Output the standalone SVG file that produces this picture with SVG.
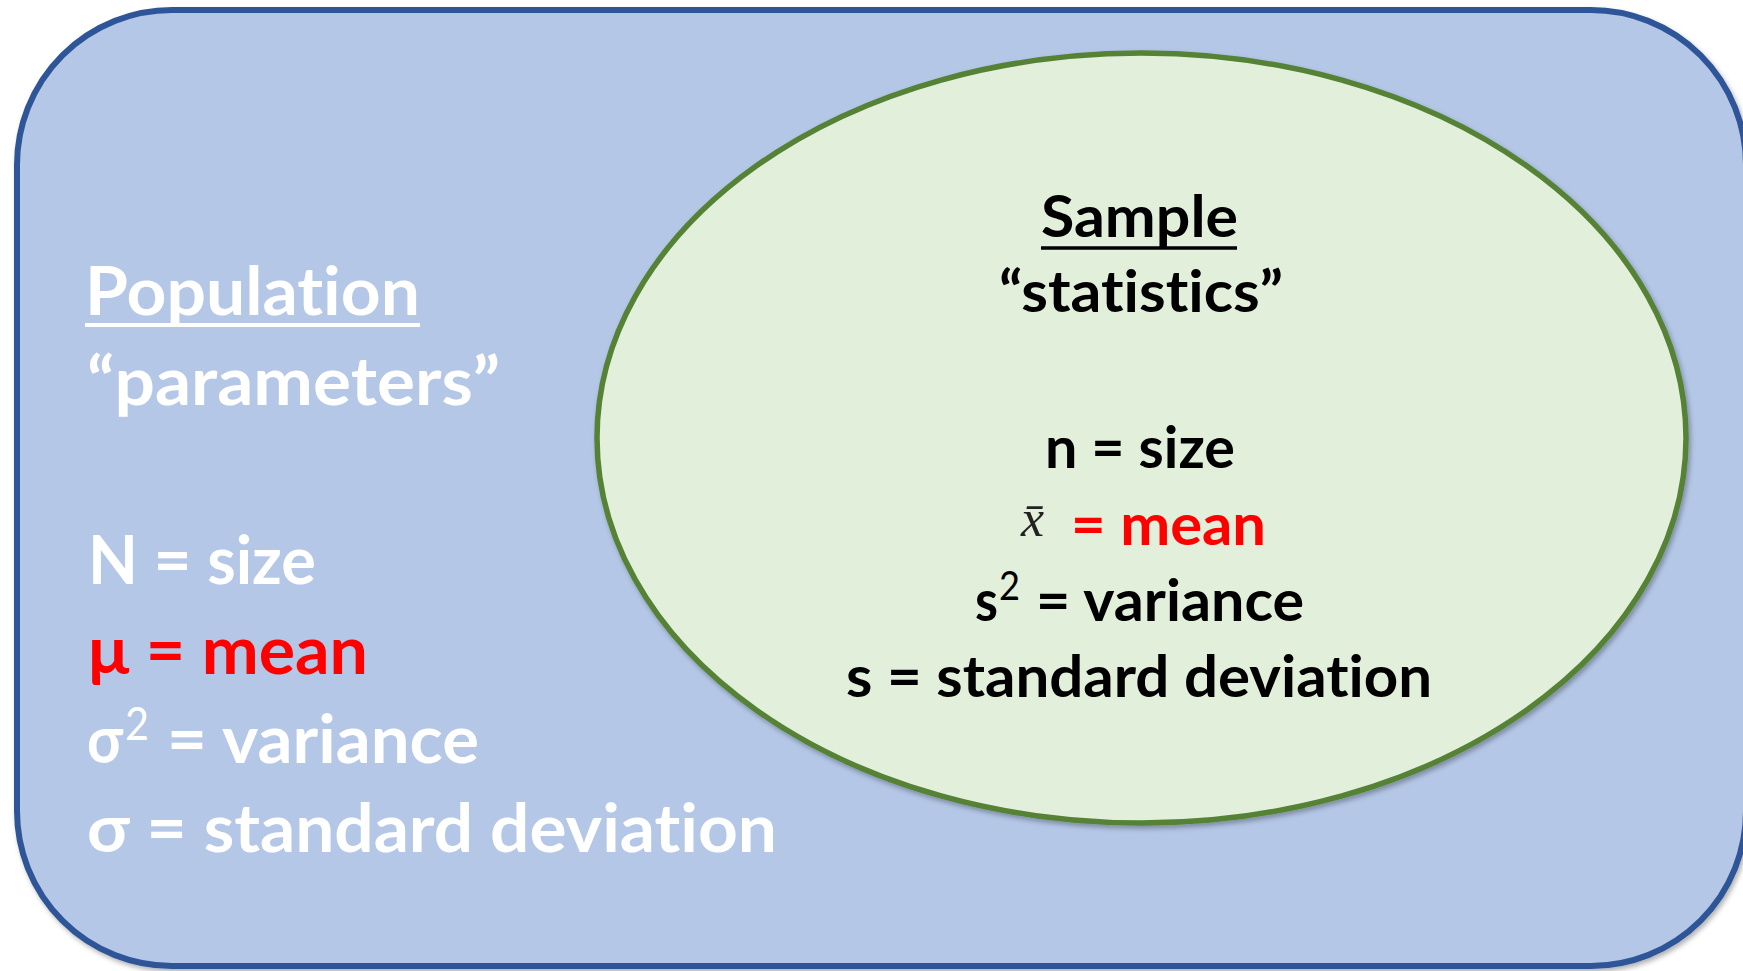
<svg xmlns="http://www.w3.org/2000/svg" width="1743" height="971" viewBox="0 0 1743 971">
<defs>
<filter id="sh" x="-5%" y="-5%" width="110%" height="110%">
<feDropShadow dx="2" dy="3" stdDeviation="2.5" flood-color="#000" flood-opacity="0.3"/>
</filter>
<style>
text{font-variant-ligatures:none;font-feature-settings:"liga" 0,"clig" 0}
.t{font-family:Lato,"Open Sans","Noto Sans",sans-serif;font-weight:700}
.L{font-size:66px}
.R{font-size:57px}
.w{fill:#ffffff}
.k{fill:#000000}
.r{fill:#ff0000}
.sup{font-family:Lato,"Open Sans",sans-serif;font-weight:400}
.ul{stroke-width:4}
</style>
</defs>
<rect width="1743" height="971" fill="#ffffff"/>
<g id="population">
<rect x="17" y="10" width="1729" height="956" rx="155" ry="155" fill="#b4c7e7" stroke="#2f5597" stroke-width="6" filter="url(#sh)"/>
<text class="t L w" x="85" y="315" textLength="335" lengthAdjust="spacingAndGlyphs">Population</text>
<line class="ul" x1="85" y1="325" x2="420" y2="325" stroke="#ffffff"/>
<text class="t L w" x="87" y="405" textLength="413" lengthAdjust="spacingAndGlyphs">“parameters”</text>
<text class="t L w" x="88" y="584" textLength="228" lengthAdjust="spacingAndGlyphs">N = size</text>
<text class="t L r" x="88" y="674" textLength="280" lengthAdjust="spacingAndGlyphs">μ = mean</text>
<text class="t L w" x="87" y="763" textLength="36" lengthAdjust="spacingAndGlyphs">σ</text>
<text class="sup w" x="125" y="740" font-size="46" textLength="24" lengthAdjust="spacingAndGlyphs">2</text>
<text class="t L w" x="167" y="763" textLength="312" lengthAdjust="spacingAndGlyphs">= variance</text>
<text class="t L w" x="87" y="852" textLength="690" lengthAdjust="spacingAndGlyphs">σ = standard deviation</text>
</g>
<g id="sample">
<ellipse cx="1141.5" cy="438" rx="544.5" ry="385" fill="#e2efda" stroke="#548235" stroke-width="5.5" filter="url(#sh)"/>
<text class="t R k" x="1041" y="237" textLength="197" lengthAdjust="spacingAndGlyphs">Sample</text>
<line x1="1041" y1="248" x2="1237" y2="248" stroke="#000000" stroke-width="3.5"/>
<text class="t R k" x="999" y="312" textLength="284" lengthAdjust="spacingAndGlyphs">“statistics”</text>
<text class="t R k" x="1045" y="468" textLength="190" lengthAdjust="spacingAndGlyphs">n = size</text>
<text x="1021" y="536" font-family="'Liberation Serif',serif" font-style="italic" font-size="52" fill="#222222">x̄</text>
<text class="t R r" x="1071" y="545" textLength="195" lengthAdjust="spacingAndGlyphs">= mean</text>
<text class="t R k" x="975" y="621" textLength="23" lengthAdjust="spacingAndGlyphs">s</text>
<text class="sup k" x="999" y="600" font-size="40" textLength="21" lengthAdjust="spacingAndGlyphs">2</text>
<text class="t R k" x="1036" y="621" textLength="268" lengthAdjust="spacingAndGlyphs">= variance</text>
<text class="t R k" x="846" y="697" textLength="586" lengthAdjust="spacingAndGlyphs">s = standard deviation</text>
</g>
<g id="connectors"/>
</svg>
